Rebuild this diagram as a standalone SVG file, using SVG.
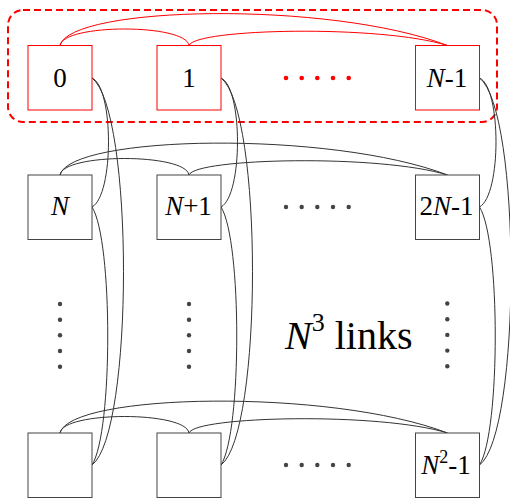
<svg xmlns="http://www.w3.org/2000/svg" width="510" height="498" viewBox="0 0 510 498">
  <style>
    .box { fill: #fff; stroke: #444; stroke-width: 1; }
    .box.red { stroke: #f00; }
    .lbl { font-family: "Liberation Serif", "Times New Roman", serif; font-size: 27px; fill: #000; text-anchor: middle; }
    .it { font-style: italic; }
    .link { fill: none; stroke: #333; stroke-width: 1; }
    .link.red { stroke: #f00; }
    .dot { fill: #444; }
    .dot.red { fill: #f00; }
    .group { fill: none; stroke: #f00; stroke-width: 2; stroke-dasharray: 7 4; }
  </style>

  <rect width="510" height="498" fill="#fff"/>

  <!-- first row grouping -->
  <rect class="group" x="8" y="10" width="489" height="112" rx="15" ry="15"/>

  <!-- connectors -->
  <g id="connectors">
    <!-- row 1 (red) -->
    <path class="link red" d="M60,45.5 C63,23.5 186,23.5 189,45.5"/>
    <path class="link red" d="M60,45.5 C70,5.5 330,0.5 447.5,45.5"/>
    <path class="link red" d="M189,45.5 C195,28.5 380,24.5 447.5,45.5"/>
    <!-- row 2 -->
    <path class="link" d="M60,175 C63,153 186,153 189,175"/>
    <path class="link" d="M60,175 C70,135 330,130 447.5,175"/>
    <path class="link" d="M189,175 C195,158 380,154 447.5,175"/>
    <!-- last row -->
    <path class="link" d="M60,433 C63,411 186,411 189,433"/>
    <path class="link" d="M60,433 C70,393 330,388 447.5,433"/>
    <path class="link" d="M189,433 C195,416 380,412 447.5,433"/>

    <!-- column 0 -->
    <path class="link" d="M92,78 C114,88 114,195 92,207"/>
    <path class="link" d="M92,78 C134,110 134,433 92,465"/>
    <path class="link" d="M92,207 C113,240 113,432 92,465"/>
    <!-- column 1 -->
    <path class="link" d="M221,78 C243,88 243,195 221,207"/>
    <path class="link" d="M221,78 C263,110 263,433 221,465"/>
    <path class="link" d="M221,207 C242,240 242,432 221,465"/>
    <!-- column N-1 -->
    <path class="link" d="M479.5,78 C501.5,88 501.5,195 479.5,207"/>
    <path class="link" d="M479.5,78 C521.5,110 521.5,433 479.5,465"/>
    <path class="link" d="M479.5,207 C500.5,240 500.5,432 479.5,465"/>
  </g>

  <!-- row 1 -->
  <g id="node-0">
    <rect class="box red" x="28" y="45.5" width="64" height="64.5"/>
    <text class="lbl" x="60" y="87">0</text>
  </g>
  <g id="node-1">
    <rect class="box red" x="157" y="45.5" width="64" height="64.5"/>
    <text class="lbl" x="189" y="87">1</text>
  </g>
  <g id="node-n-1">
    <rect class="box red" x="415.5" y="45.5" width="64" height="64.5"/>
    <text class="lbl" x="447" y="87"><tspan class="it">N</tspan>-1</text>
  </g>

  <!-- row 2 -->
  <g id="node-n">
    <rect class="box" x="28" y="175" width="64" height="64.5"/>
    <text class="lbl" x="60" y="215"><tspan class="it">N</tspan></text>
  </g>
  <g id="node-n+1">
    <rect class="box" x="157" y="175" width="64" height="64.5"/>
    <text class="lbl" x="188.5" y="215"><tspan class="it">N</tspan>+1</text>
  </g>
  <g id="node-2n-1">
    <rect class="box" x="415.5" y="175" width="64" height="64.5"/>
    <text class="lbl" x="446.5" y="215">2<tspan class="it">N</tspan>-1</text>
  </g>

  <!-- last row -->
  <g id="node-last-0">
    <rect class="box" x="28" y="433" width="64" height="64.5"/>
  </g>
  <g id="node-last-1">
    <rect class="box" x="157" y="433" width="64" height="64.5"/>
  </g>
  <g id="node-n2-1">
    <rect class="box" x="415.5" y="433" width="64" height="64.5"/>
    <text class="lbl" x="446" y="474"><tspan class="it">N</tspan><tspan font-size="18" dy="-11">2</tspan><tspan dy="11">-1</tspan></text>
  </g>

  <!-- horizontal ellipses -->
  <g id="dots-row1">
    <circle class="dot red" cx="286" cy="78" r="2.3"/>
    <circle class="dot red" cx="301.7" cy="78" r="2.3"/>
    <circle class="dot red" cx="317.3" cy="78" r="2.3"/>
    <circle class="dot red" cx="333" cy="78" r="2.3"/>
    <circle class="dot red" cx="348.7" cy="78" r="2.3"/>
  </g>
  <g id="dots-row2">
    <circle class="dot" cx="286" cy="207" r="2.2"/>
    <circle class="dot" cx="301.7" cy="207" r="2.2"/>
    <circle class="dot" cx="317.3" cy="207" r="2.2"/>
    <circle class="dot" cx="333" cy="207" r="2.2"/>
    <circle class="dot" cx="348.7" cy="207" r="2.2"/>
  </g>
  <g id="dots-row-last">
    <circle class="dot" cx="286" cy="465" r="2.2"/>
    <circle class="dot" cx="301.7" cy="465" r="2.2"/>
    <circle class="dot" cx="317.3" cy="465" r="2.2"/>
    <circle class="dot" cx="333" cy="465" r="2.2"/>
    <circle class="dot" cx="348.7" cy="465" r="2.2"/>
  </g>

  <!-- vertical ellipses -->
  <g id="dots-col0">
    <circle class="dot" cx="60" cy="304" r="2.2"/>
    <circle class="dot" cx="60" cy="319.7" r="2.2"/>
    <circle class="dot" cx="60" cy="335.3" r="2.2"/>
    <circle class="dot" cx="60" cy="351" r="2.2"/>
    <circle class="dot" cx="60" cy="366.7" r="2.2"/>
  </g>
  <g id="dots-col1">
    <circle class="dot" cx="189" cy="304" r="2.2"/>
    <circle class="dot" cx="189" cy="319.7" r="2.2"/>
    <circle class="dot" cx="189" cy="335.3" r="2.2"/>
    <circle class="dot" cx="189" cy="351" r="2.2"/>
    <circle class="dot" cx="189" cy="366.7" r="2.2"/>
  </g>
  <g id="dots-colN">
    <circle class="dot" cx="447.3" cy="303.5" r="2.2"/>
    <circle class="dot" cx="447.3" cy="319.2" r="2.2"/>
    <circle class="dot" cx="447.3" cy="334.9" r="2.2"/>
    <circle class="dot" cx="447.3" cy="350.6" r="2.2"/>
    <circle class="dot" cx="447.3" cy="366.3" r="2.2"/>
  </g>

  <!-- link count caption -->
  <text x="285" y="349" font-family="'Liberation Serif', 'Times New Roman', serif" font-size="40" fill="#000"><tspan font-style="italic">N</tspan><tspan font-size="26" dy="-18">3</tspan><tspan dy="18"> links</tspan></text>
</svg>
